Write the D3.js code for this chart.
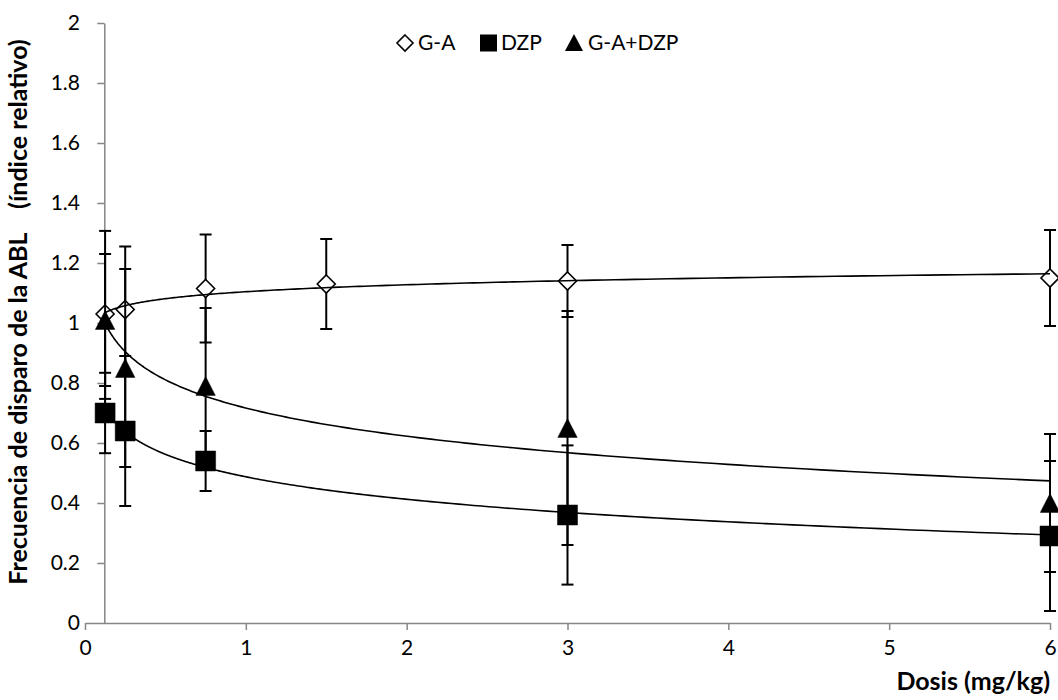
<!DOCTYPE html>
<html>
<head>
<meta charset="utf-8">
<script src="https://cdn.jsdelivr.net/npm/d3@7"></script>
<style>
  html, body { margin: 0; padding: 0; background: #fff; }
  svg { display: block; }
  text { font-family: Lato, "Open Sans", sans-serif; fill: #000; }
</style>
</head>
<body>
<svg id="chart" width="1058" height="700"></svg>
<script>
// Firing frequency of the ABL (relative index) against dose, three treatments
const xTicks = [0, 1, 2, 3, 4, 5, 6];
const yTicks = [0, 0.2, 0.4, 0.6, 0.8, 1, 1.2, 1.4, 1.6, 1.8, 2];
const yTickLabels = ["0", "0.2", "0.4", "0.6", "0.8", "1", "1.2", "1.4", "1.6", "1.8", "2"];

const seriesNames = ["G-A", "DZP", "G-A+DZP"];

const gaDose = [0.125, 0.25, 0.75, 1.5, 3, 6];
const gaValue = [1.03, 1.045, 1.115, 1.13, 1.14, 1.15];
const gaErrUp = [0.20, 0.21, 0.18, 0.15, 0.12, 0.16];
const gaErrDown = [0.24, 0.21, 0.18, 0.15, 0.12, 0.16];

const dzpDose = [0.125, 0.25, 0.75, 3, 6];
const dzpValue = [0.70, 0.64, 0.54, 0.36, 0.29];
const dzpErrUp = [0.134, 0.25, 0.10, 0.232, 0.25];
const dzpErrDown = [0.134, 0.25, 0.10, 0.232, 0.25];

const mixDose = [0.125, 0.25, 0.75, 3, 6];
const mixValue = [1.01, 0.85, 0.79, 0.65, 0.40];
const mixErrUp = [0.297, 0.33, 0.26, 0.39, 0.23];
const mixErrDown = [0.263, 0.33, 0.26, 0.39, 0.23];

const xTitle = "Dosis (mg/kg)";
const yTitle = "Frecuencia de disparo de la ABL    (índice relativo)";

const yAxisCrossesAt = 0.12;

const svg = d3.select("#chart");
const plot = { left: 85, right: 1050, top: 23, bottom: 623 };

const x = d3.scaleLinear().domain([0, 6]).range([plot.left, plot.right]);
const y = d3.scaleLinear().domain([0, 2]).range([plot.bottom, plot.top]);

const axisColor = "#868686";
const tickFont = 21;
const titleFont = 25;

// Horizontal axis
const gx = svg.append("g").attr("transform", `translate(0,${plot.bottom})`)
  .call(d3.axisBottom(x).tickValues(xTicks).tickFormat(d3.format("d"))
    .tickSize(7).tickSizeOuter(0).tickPadding(10));
gx.select(".domain").attr("stroke", axisColor).attr("stroke-width", 1.5);
gx.selectAll(".tick line").attr("stroke", axisColor).attr("stroke-width", 1.5);
gx.selectAll(".tick text").attr("font-size", tickFont).attr("font-family", "Lato").attr("fill", "#000");

// Vertical axis, crossing the horizontal one near the first dose
const gy = svg.append("g").attr("transform", `translate(${x(yAxisCrossesAt)},0)`)
  .call(d3.axisLeft(y).tickValues(yTicks).tickFormat((d, i) => yTickLabels[i])
    .tickSize(7).tickSizeOuter(0).tickPadding(6));
gy.select(".domain").attr("stroke", axisColor).attr("stroke-width", 1.5);
gy.selectAll(".tick line").attr("stroke", axisColor).attr("stroke-width", 1.5);
gy.selectAll(".tick text").attr("font-size", tickFont).attr("font-family", "Lato").attr("fill", "#000")
  .attr("x", d => -(x(yAxisCrossesAt) - 80));
gy.selectAll(".tick").filter(d => d === 0).select("line").remove();

// Axis titles
svg.append("text")
  .attr("x", plot.right).attr("y", 690)
  .attr("text-anchor", "end")
  .attr("font-size", titleFont).attr("font-weight", "bold")
  .text(xTitle);

svg.append("text")
  .attr("transform", `translate(27,${312}) rotate(-90)`)
  .attr("text-anchor", "middle")
  .attr("font-size", titleFont).attr("font-weight", "bold")
  .style("white-space", "pre")
  .text(yTitle);

// Logarithmic least-squares trend line, y = a + b ln(x)
function logFit(xs, ys) {
  const lx = xs.map(Math.log);
  const mx = d3.mean(lx), my = d3.mean(ys);
  let sxy = 0, sxx = 0;
  lx.forEach((v, i) => { sxy += (v - mx) * (ys[i] - my); sxx += (v - mx) * (v - mx); });
  const b = sxy / sxx;
  const a = my - b * mx;
  return t => a + b * Math.log(t);
}

const series = [
  { name: seriesNames[0], dose: gaDose, value: gaValue, up: gaErrUp, down: gaErrDown, shape: "diamond" },
  { name: seriesNames[1], dose: dzpDose, value: dzpValue, up: dzpErrUp, down: dzpErrDown, shape: "square" },
  { name: seriesNames[2], dose: mixDose, value: mixValue, up: mixErrUp, down: mixErrDown, shape: "triangle" }
];

function markerPath(shape, cx, cy) {
  if (shape === "diamond") {
    const r = 9;
    return `M${cx},${cy - r}L${cx + r},${cy}L${cx},${cy + r}L${cx - r},${cy}Z`;
  }
  if (shape === "square") {
    const h = 10;
    return `M${cx - h},${cy - h}H${cx + h}V${cy + h}H${cx - h}Z`;
  }
  const w = 9.7, top = 9.4;
  return `M${cx},${cy - top}L${cx + w},${cy + top}L${cx - w},${cy + top}Z`;
}

function drawMarker(g, shape, cx, cy) {
  g.append("path")
    .attr("d", markerPath(shape, cx, cy))
    .attr("fill", shape === "diamond" ? "#fff" : "#000")
    .attr("stroke", "#000")
    .attr("stroke-width", shape === "diamond" ? 1.6 : 0.5)
    .attr("stroke-linejoin", "miter");
}

const marks = svg.append("g");
const capHalf = 6;

series.forEach(s => {
  const g = marks.append("g");
  s.dose.forEach((d, i) => {
    const cx = x(d);
    const yHi = y(s.value[i] + s.up[i]);
    const yLo = y(s.value[i] - s.down[i]);
    g.append("line").attr("x1", cx).attr("x2", cx).attr("y1", yHi).attr("y2", yLo)
      .attr("stroke", "#000").attr("stroke-width", 2);
    [yHi, yLo].forEach(yy => {
      g.append("line").attr("x1", cx - capHalf).attr("x2", cx + capHalf).attr("y1", yy).attr("y2", yy)
        .attr("stroke", "#000").attr("stroke-width", 2);
    });
  });
  s.dose.forEach((d, i) => drawMarker(g, s.shape, x(d), y(s.value[i])));
});

// Trend lines over the markers
series.forEach(s => {
  const f = logFit(s.dose, s.value);
  const lo = d3.min(s.dose), hi = d3.max(s.dose);
  const pts = d3.range(0, 201).map(k => {
    const t = Math.exp(Math.log(lo) + (Math.log(hi) - Math.log(lo)) * k / 200);
    return [t, f(t)];
  });
  svg.append("path")
    .datum(pts)
    .attr("d", d3.line().x(p => x(p[0])).y(p => y(p[1])))
    .attr("fill", "none").attr("stroke", "#000").attr("stroke-width", 1.6);
});

// Legend
const legendItems = [
  { shape: "diamond", cx: 405, tx: 418, label: seriesNames[0] },
  { shape: "square", cx: 488.5, tx: 501, label: seriesNames[1] },
  { shape: "triangle", cx: 574, tx: 588, label: seriesNames[2] }
];
const legend = svg.append("g");
const ly = 43;
legendItems.forEach(it => {
  if (it.shape === "diamond") {
    const r = 8;
    legend.append("path").attr("d", `M${it.cx},${ly - r}L${it.cx + r},${ly}L${it.cx},${ly + r}L${it.cx - r},${ly}Z`)
      .attr("fill", "#fff").attr("stroke", "#000").attr("stroke-width", 1.6);
  } else if (it.shape === "square") {
    legend.append("rect").attr("x", it.cx - 8.5).attr("y", ly - 8.5).attr("width", 17).attr("height", 17).attr("fill", "#000");
  } else {
    legend.append("path").attr("d", `M${it.cx},${ly - 9}L${it.cx + 9},${ly + 8}L${it.cx - 9},${ly + 8}Z`).attr("fill", "#000");
  }
  legend.append("text").attr("x", it.tx).attr("y", ly).attr("dy", "0.35em")
    .attr("font-size", tickFont).text(it.label);
});
</script>
</body>
</html>
